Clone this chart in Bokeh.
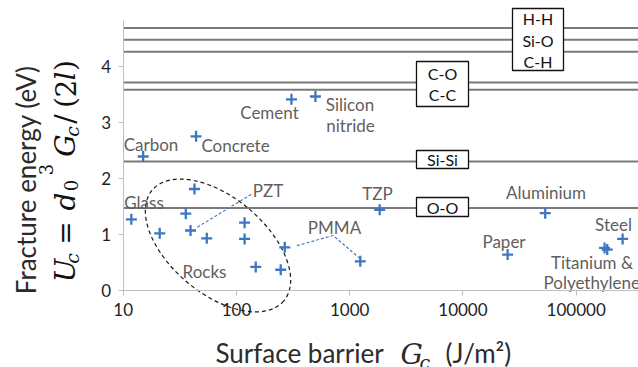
from math import log10, pi
from bokeh.plotting import figure
from bokeh.models import Range1d, FixedTicker, Label
from bokeh.core.properties import value
from bokeh.embed import file_html
from bokeh.resources import INLINE

# ---------------- data ----------------
materials = ["Glass", "Carbon", "Rock", "Rock", "Rock", "PZT", "Rock", "Concrete",
             "Rock", "Rock", "Rock", "Rock", "PMMA", "Cement", "Silicon nitride",
             "PMMA", "TZP", "Paper", "Aluminium", "Titanium", "Polyethylene", "Steel"]
gc_values = [11.8, 15, 21, 35.7, 42.6, 39.3, 54.7, 44,
             118, 118, 148, 246, 267, 306, 498,
             1240, 1840, 24800, 53300, 178000, 188000, 257000]
uc_values = [1.27, 2.39, 1.02, 1.37, 1.81, 1.07, 0.93, 2.75,
             1.21, 0.92, 0.42, 0.37, 0.77, 3.41, 3.46,
             0.52, 1.44, 0.64, 1.38, 0.76, 0.73, 0.92]

bond_names = ["H-H", "Si-O", "C-H", "C-O", "C-C", "Si-Si", "O-O"]
bond_energies = [4.68, 4.47, 4.26, 3.71, 3.58, 2.30, 1.47]

x_ticks = [10, 100, 1000, 10000, 100000]
x_tick_labels = ["10", "100", "1000", "10000", "100000"]
y_ticks = [0, 1, 2, 3, 4]
y_tick_labels = ["0", "1", "2", "3", "4"]

# ---------------- layout ----------------
W, H = 638, 367
XR = (0.825, 3.55e5)     # frame covers whole canvas; axes drawn at fixed locations
YR = (-1.373, 5.172)
X_MIN, Y_MIN, Y_TOP = 10, 0, 4.815


def dx(px):
    f = px / W
    return 10 ** (log10(XR[0]) + f * (log10(XR[1]) - log10(XR[0])))


def dy(py):
    f = (H - py) / H
    return YR[0] + f * (YR[1] - YR[0])


SANS = "Lato"
SERIF = "DejaVu Serif"
LABEL_GRAY = "#5f5f5f"
DARK = "#2b2b2b"

p = figure(width=W, height=H, x_axis_type="log",
           x_range=Range1d(*XR), y_range=Range1d(*YR),
           output_backend="svg", toolbar_location=None,
           min_border_left=0, min_border_right=0,
           min_border_top=0, min_border_bottom=0)
p.outline_line_color = None
p.xgrid.visible = False
p.ygrid.visible = False
p.background_fill_color = "white"

for ax in (p.xaxis[0], p.yaxis[0]):
    ax.axis_line_color = "#bfbfbf"
    ax.major_tick_line_color = "#bfbfbf"
    ax.minor_tick_line_color = None
    ax.major_tick_out = 5
    ax.major_tick_in = 0
    ax.major_label_text_font = SANS
    ax.major_label_text_font_size = "17px"
    ax.major_label_text_color = "#1e1e1e"
p.xaxis.fixed_location = Y_MIN
p.xaxis.bounds = (X_MIN, XR[1])
p.xaxis.ticker = FixedTicker(ticks=x_ticks, minor_ticks=[])
p.xaxis.major_label_overrides = {t: l for t, l in zip(x_ticks, x_tick_labels)}
p.xaxis.major_label_standoff = 7
p.yaxis.fixed_location = X_MIN
p.yaxis.bounds = (Y_MIN, Y_TOP)
p.yaxis.ticker = FixedTicker(ticks=y_ticks, minor_ticks=[])
p.yaxis.major_label_overrides = {t: l for t, l in zip(y_ticks, y_tick_labels)}
p.yaxis.major_label_standoff = 7

# bond energy lines
p.segment(x0=[X_MIN] * len(bond_energies), x1=[XR[1]] * len(bond_energies),
          y0=bond_energies, y1=bond_energies, line_color="#7a7a7a", line_width=2)

# ellipse around rocks
p.ellipse(x=[dx(217.5)], y=[dy(245)], width=172, height=96,
          width_units="screen", height_units="screen", angle=-0.70,
          fill_color=None, line_color="#1a1a1a", line_dash="4 3", line_width=1.2)

# leader lines
p.line([gc_values[5] * 1.15, dx(251.7)], [uc_values[5] + 0.06, dy(193.3)],
       line_color="#4a7ebb", line_dash="3 2", line_width=1.2)
p.line([gc_values[12] * 1.28, dx(332.7), gc_values[15] * 0.98],
       [uc_values[12] + 0.03, dy(235), uc_values[15] + 0.06],
       line_color="#4a7ebb", line_dash="3 2", line_width=1.2)

# data points
p.scatter(gc_values, uc_values, marker="cross", size=11, line_width=2.3,
          line_color="#3d76c2")

# bond boxes
box_cx = [537.5, 442, 442, 442]
box_cy = [39, 83.5, 159, 206.5]
box_w = [51, 52, 52, 52]
box_h = [62, 45, 18, 19]
p.rect(x=[dx(v) for v in box_cx], y=[dy(v) for v in box_cy], width=box_w, height=box_h,
       width_units="screen", height_units="screen",
       fill_color="white", line_color="#111111", line_width=1.3)

box_text_px = [537.5, 537.5, 537.5, 442, 442, 442, 442]
box_text_py = [18.3, 40, 61, 73, 94, 159, 207]
p.text(x=[dx(v) for v in box_text_px], y=[dy(v) for v in box_text_py], text=bond_names,
       text_font=value(SANS), text_font_size="16px", text_color="#111111",
       text_align="center", text_baseline="middle")

# material labels
lab_text = ["Carbon", "Concrete", "Cement", "Silicon", "nitride", "Glass", "PZT", "Rocks",
            "PMMA", "TZP", "Aluminium", "Paper", "Steel", "Titanium &"]
lab_px = [150.5, 235, 269, 349.5, 350, 143.5, 267.5, 204, 334, 377, 545.5, 503.5, 613, 591.5]
lab_py = [143.5, 145, 112, 103.5, 125, 201.5, 189.5, 271, 226.5, 193, 192, 241, 223.5, 261.5]
p.text(x=[dx(v) for v in lab_px], y=[dy(v) for v in lab_py], text=lab_text,
       text_font=value(SANS), text_font_size="17px", text_color=LABEL_GRAY,
       text_align="center", text_baseline="middle")
p.text(x=[dx(543)], y=[dy(281.5)], text=["Polyethylene"],
       text_font=value(SANS), text_font_size="17px", text_color=LABEL_GRAY,
       text_align="left", text_baseline="middle")

# y axis title
p.add_layout(Label(x=dx(25), y=dy(176), text="Fracture  energy (eV)", angle=pi / 2,
                   text_font=SANS, text_font_size="26px", text_color=DARK,
                   text_align="center", text_baseline="alphabetic"))

math_pieces = [
    ("U", 270, 65, 28, "italic"),
    ("c", 258, 71, 19, "italic"),
    ("=", 232.5, 65, 28, "normal"),
    ("d", 201, 65, 28, "italic"),
    ("0", 185, 70, 18, "normal"),
    ("3", 169, 45, 18, "normal"),
    ("G", 145, 65, 28, "italic"),
    ("c", 131, 71, 19, "italic"),
    ("/", 118.5, 65, 28, "normal"),
    ("(", 102, 65, 28, "normal"),
    ("2", 88, 65, 28, "normal"),
    ("l", 75.5, 65, 28, "italic"),
    (")", 65, 65, 28, "normal"),
]
for t, py, px, sz, st in math_pieces:
    p.add_layout(Label(x=dx(px), y=dy(py), text=t, angle=pi / 2,
                       text_font=SERIF, text_font_size=f"{sz}px", text_font_style=st,
                       text_color="#111111", text_align="center", text_baseline="alphabetic"))

# x axis title
x_title = [
    ("Surface barrier", 215, 352, SANS, 26, "normal"),
    ("G", 400, 354, SERIF, 28, "italic"),
    ("c", 419, 361, SERIF, 19, "italic"),
    ("(J/m²)", 445, 352, SANS, 26, "normal"),
]
for t, px, py, f, sz, st in x_title:
    p.add_layout(Label(x=dx(px), y=dy(py), text=t,
                       text_font=f, text_font_size=f"{sz}px", text_font_style=st,
                       text_color=DARK, text_align="left", text_baseline="alphabetic"))

open("out.html", "w").write(file_html(p, INLINE))
